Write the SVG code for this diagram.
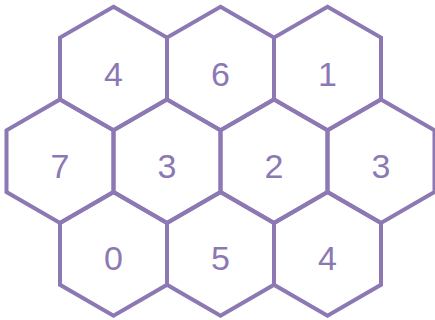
<svg xmlns="http://www.w3.org/2000/svg" xmlns:xlink="http://www.w3.org/1999/xlink" width="435" height="320" viewBox="0 0 435 320">
<style>
.hex{fill:none;stroke:#8C79B4;stroke-width:4;stroke-linejoin:miter}
.lbl{font-family:"Liberation Sans",Arial,sans-serif;font-size:34px;fill:#8C79B4;text-anchor:middle}
</style>
<defs>
<polygon id="hx" class="hex" points="0,-61.8 53.5,-30.9 53.5,30.9 0,61.8 -53.5,30.9 -53.5,-30.9"/>
</defs>
<rect width="435" height="320" fill="#fff"/>
<g id="connectors"></g>
<g id="n1" transform="translate(113.5,68.5)"><use href="#hx"/><text class="lbl" y="17.5">4</text></g>
<g id="n2" transform="translate(220.5,68.5)"><use href="#hx"/><text class="lbl" y="17.5">6</text></g>
<g id="n3" transform="translate(327.5,68.5)"><use href="#hx"/><text class="lbl" y="17.5">1</text></g>
<g id="n4" transform="translate(60,161.2)"><use href="#hx"/><text class="lbl" y="16.5">7</text></g>
<g id="n5" transform="translate(167,161.2)"><use href="#hx"/><text class="lbl" y="16.5">3</text></g>
<g id="n6" transform="translate(274,161.2)"><use href="#hx"/><text class="lbl" y="16.5">2</text></g>
<g id="n7" transform="translate(381,161.2)"><use href="#hx"/><text class="lbl" y="16.5">3</text></g>
<g id="n8" transform="translate(113.5,253.9)"><use href="#hx"/><text class="lbl" y="16.5">0</text></g>
<g id="n9" transform="translate(220.5,253.9)"><use href="#hx"/><text class="lbl" y="16.5">5</text></g>
<g id="n10" transform="translate(327.5,253.9)"><use href="#hx"/><text class="lbl" y="16.5">4</text></g>
</svg>
